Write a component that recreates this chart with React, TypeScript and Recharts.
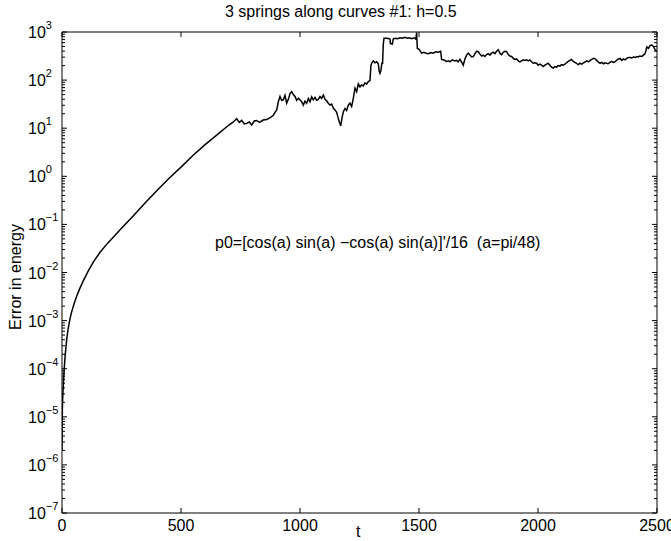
import { Line, LineChart, XAxis, YAxis } from "recharts";

const FONT = '"Liberation Sans", Arial, Helvetica, sans-serif';

const titleText = "3 springs along curves #1: h=0.5";
const yLabelText = "Error in energy";
const xLabelText = "t";
const noteText = "p0=[cos(a) sin(a) \u2212cos(a) sin(a)]'/16  (a=pi/48)";

const xTicks = [0, 500, 1000, 1500, 2000, 2500];
const yMajorTicks = [1e-7, 1e-6, 1e-5, 1e-4, 1e-3, 1e-2, 1e-1, 1, 10, 100, 1000];
const yMinorSteps = [2, 3, 4, 5, 6, 7, 8, 9];

// time samples (t) and energy error
const times = [
  0, 1, 2, 3, 5, 7, 10, 13, 16, 20, 25, 30, 35, 40, 50, 62, 75, 90, 110, 132,
  160, 190, 220, 250, 300, 350, 400, 450, 500, 550, 600, 650, 700, 720,
  734, 745, 755, 766, 776, 787, 797, 808, 818, 830, 845, 860, 875, 888, 895,
  902, 909, 916, 923, 930, 937, 944, 951, 958, 965, 972, 979, 986, 993, 1000,
  1007, 1014, 1021, 1028, 1035, 1042, 1049, 1056, 1063, 1070, 1077, 1084,
  1091, 1098, 1105, 1112, 1119, 1126, 1133, 1140, 1147, 1154, 1160, 1166,
  1171, 1176, 1182, 1189, 1196, 1203, 1210, 1217, 1224, 1231, 1238, 1245,
  1252, 1259, 1266, 1273, 1280, 1287, 1294, 1298, 1301, 1308, 1315, 1322,
  1329, 1333, 1336, 1340, 1344, 1347, 1350, 1353, 1365, 1375, 1378, 1380,
  1388, 1392, 1400, 1410, 1420, 1430, 1440, 1450, 1460, 1470, 1480, 1487,
  1490, 1493, 1500, 1511, 1520, 1530, 1540, 1550, 1560, 1570, 1580, 1591,
  1595, 1605, 1615, 1625, 1630, 1640, 1650, 1658, 1665, 1672, 1680, 1686,
  1693, 1700, 1707, 1714, 1721, 1728, 1735, 1742, 1749, 1756, 1763, 1770,
  1777, 1784, 1791, 1798, 1805, 1812, 1819, 1826, 1833, 1840, 1847, 1854,
  1861, 1868, 1875, 1882, 1889, 1896, 1903, 1910, 1917, 1924, 1931, 1938,
  1945, 1952, 1959, 1966, 1973, 1980, 1987, 1994, 2001, 2008, 2015, 2022,
  2029, 2036, 2043, 2050, 2057, 2064, 2071, 2078, 2085, 2092, 2099, 2106,
  2113, 2120, 2127, 2134, 2141, 2148, 2155, 2162, 2169, 2176, 2184, 2191,
  2198, 2205, 2212, 2219, 2226, 2232, 2239, 2246, 2253, 2261, 2268, 2275,
  2282, 2288, 2295, 2302, 2309, 2316, 2323, 2330, 2338, 2345, 2352, 2359,
  2366, 2373, 2380, 2387, 2394, 2401, 2408, 2414, 2421, 2428, 2436, 2443,
  2450, 2454, 2457, 2464, 2471, 2478, 2485, 2492, 2500,
];

const errors = [
  2e-6, 1e-5, 1.8e-5, 2.5e-5, 4e-5, 6.3e-5, 1.12e-4, 1.78e-4, 2.63e-4,
  4.17e-4, 6.3e-4, 8.9e-4, 1.17e-3, 1.48e-3, 2.19e-3, 3.24e-3, 4.68e-3,
  6.76e-3, 0.0107, 0.0166, 0.0263, 0.0398, 0.0575, 0.0832, 0.151, 0.282,
  0.513, 0.912, 1.55, 2.7, 4.5, 7.2, 11.5, 13.5,
  15.8, 13.2, 14.5, 12.3, 12.6, 13.5, 11.7, 14.1, 14.5, 13.2, 14.8, 15.1,
  16.6, 18.6, 21.4, 24.0, 35.5, 45.7, 38.0, 38.9, 47.9, 33.1, 39.8, 52.5,
  57.5, 50.1, 45.7, 38.0, 41.7, 38.9, 35.5, 30.2, 36.3, 33.1, 41.7, 35.5,
  44.7, 38.9, 43.7, 38.0, 39.8, 45.7, 41.7, 49.0, 39.8, 37.2, 33.1, 30.2,
  31.6, 26.3, 24.0, 21.4, 16.6, 13.2, 11.2, 15.8, 21.9, 25.7, 23.4, 30.2,
  33.1, 28.2, 41.7, 67.6, 57.5, 83.2, 72.4, 79.4, 75.9, 87.1, 83.2, 93.3,
  97.7, 200, 224, 251, 229, 240, 219, 151, 138, 158, 224, 224, 562, 741,
  741, 724, 708, 575, 562, 724, 741, 724, 759, 741, 776, 741, 759, 724, 759,
  708, 980, 457, 437, 363, 380, 363, 355, 372, 363, 389, 380, 398, 269, 263,
  245, 251, 240, 263, 251, 257, 240, 269, 234, 204, 275, 331, 363, 331, 302,
  309, 355, 398, 389, 347, 316, 331, 309, 339, 355, 331, 363, 380, 355, 398,
  427, 363, 339, 380, 398, 389, 339, 316, 309, 282, 269, 275, 251, 240, 251,
  263, 257, 263, 251, 263, 240, 224, 229, 224, 204, 214, 204, 191, 204, 214,
  224, 204, 186, 178, 191, 186, 200, 195, 209, 204, 214, 229, 245, 257, 269,
  245, 234, 224, 209, 224, 214, 229, 240, 251, 240, 257, 269, 282, 282, 257,
  240, 224, 234, 219, 229, 224, 219, 234, 245, 234, 240, 257, 275, 282, 257,
  275, 263, 282, 295, 295, 288, 302, 295, 309, 302, 316, 309, 331, 355, 417,
  490, 457, 525, 537, 501, 427, 398,
];

const data = times.map((t, i) => ({ t, err: errors[i] }));

const yTicks = [
  ...yMajorTicks,
  ...yMajorTicks.slice(0, -1).flatMap((m) => yMinorSteps.map((s) => s * m)),
].sort((a, b) => a - b);

const isMajor = (v: number) => {
  const l = Math.log10(v);
  return Math.abs(l - Math.round(l)) < 1e-6;
};

function BottomTick(props: any) {
  const { x, y, payload } = props;
  return (
    <g>
      <line x1={x} y1={y} x2={x} y2={y - 5} stroke="#000" strokeWidth={1} />
      <text x={x} y={y + 18} textAnchor="middle" fontSize={16} fontFamily={FONT} fill="#000">
        {payload.value}
      </text>
    </g>
  );
}

function TopTick(props: any) {
  const { x, y } = props;
  return <line x1={x} y1={y} x2={x} y2={y + 5} stroke="#000" strokeWidth={1} />;
}

function LeftTick(props: any) {
  const { x, y, payload } = props;
  const major = isMajor(payload.value);
  const exp = Math.round(Math.log10(payload.value));
  return (
    <g>
      <line x1={x} y1={y} x2={x + (major ? 5 : 3)} y2={y} stroke="#000" strokeWidth={1} />
      {major && (
        <text x={x - 34} y={y + 6} fontSize={16} fontFamily={FONT} fill="#000">
          10
          <tspan dy={-9} fontSize={11}>
            {exp < 0 ? "\u2212" + Math.abs(exp) : exp}
          </tspan>
        </text>
      )}
    </g>
  );
}

function RightTick(props: any) {
  const { x, y, payload } = props;
  const major = isMajor(payload.value);
  return <line x1={x} y1={y} x2={x - (major ? 5 : 3)} y2={y} stroke="#000" strokeWidth={1} />;
}

export default function App() {
  return (
    <div
      style={{
        position: "absolute",
        left: 0,
        top: 0,
        width: 671,
        height: 541,
        background: "#fff",
        fontFamily: FONT,
        color: "#000",
      }}
    >
      <LineChart width={671} height={541} data={data} margin={{ top: 31, right: 13, bottom: 0, left: 12 }}>
        <XAxis
          dataKey="t"
          type="number"
          domain={[0, 2500]}
          ticks={xTicks}
          interval={0}
          height={28}
          tickSize={0}
          tickMargin={0}
          tick={<BottomTick />}
          stroke="#000"
          allowDataOverflow
        />
        <XAxis
          xAxisId="top"
          dataKey="t"
          orientation="top"
          type="number"
          domain={[0, 2500]}
          ticks={xTicks}
          interval={0}
          height={1}
          tickSize={0}
          tickMargin={0}
          tick={<TopTick />}
          stroke="#000"
          allowDataOverflow
        />
        <YAxis
          type="number"
          scale="log"
          domain={[1e-7, 1000]}
          ticks={yTicks}
          interval={0}
          width={50}
          tickSize={0}
          tickMargin={0}
          tick={<LeftTick />}
          stroke="#000"
          allowDataOverflow
        />
        <YAxis
          yAxisId="right"
          orientation="right"
          type="number"
          scale="log"
          domain={[1e-7, 1000]}
          ticks={yTicks}
          interval={0}
          width={1}
          tickSize={0}
          tickMargin={0}
          tick={<RightTick />}
          stroke="#000"
          allowDataOverflow
        />
        {/* invisible twin so the top/right frame axes get drawn */}
        <Line
          xAxisId="top"
          yAxisId="right"
          dataKey="err"
          type="linear"
          stroke="#000"
          strokeOpacity={0}
          dot={false}
          activeDot={false}
          isAnimationActive={false}
        />
        <Line
          dataKey="err"
          type="linear"
          stroke="#000"
          strokeWidth={1.5}
          dot={false}
          isAnimationActive={false}
        />
      </LineChart>
      <div style={{ position: "absolute", left: 225, top: 3, fontSize: 16, whiteSpace: "nowrap" }}>
        {titleText}
      </div>
      <div
        style={{
          position: "absolute",
          left: 16,
          top: 277,
          fontSize: 16,
          whiteSpace: "nowrap",
          transform: "translate(-50%, -50%) rotate(-90deg)",
        }}
      >
        {yLabelText}
      </div>
      <div style={{ position: "absolute", left: 356, top: 523, fontSize: 16 }}>{xLabelText}</div>
      <div style={{ position: "absolute", left: 215, top: 234, fontSize: 16, whiteSpace: "pre" }}>
        {noteText}
      </div>
    </div>
  );
}
